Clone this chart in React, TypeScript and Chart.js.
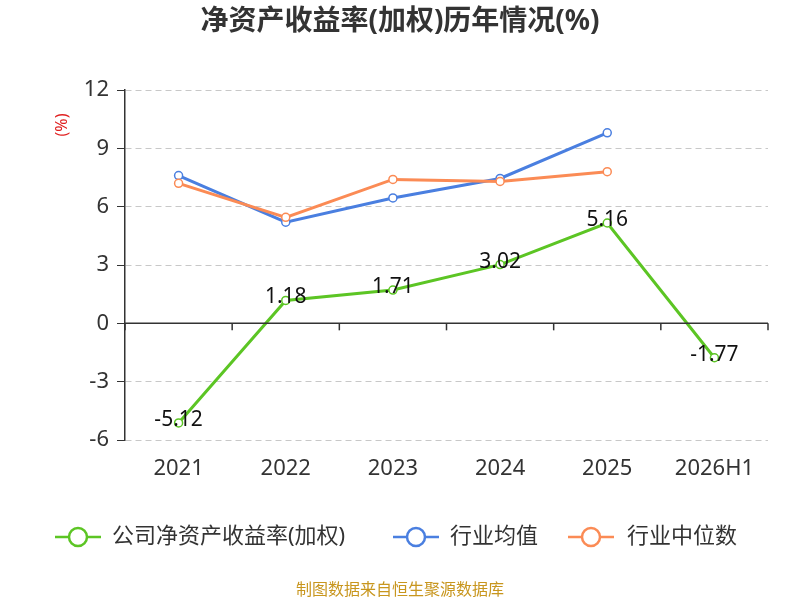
import React, { useEffect, useRef } from "react";
import { Chart, registerables } from "chart.js";
Chart.register(...registerables);

const categories = ["2021", "2022", "2023", "2024", "2025", "2026H1"];
const companyRoe = [-5.12, 1.18, 1.71, 3.02, 5.16, -1.77];
const industryAvg = [7.6, 5.2, 6.45, 7.45, 9.8, null];
const industryMedian = [7.2, 5.45, 7.4, 7.3, 7.8, null];
const yTicks = [-6, -3, 0, 3, 6, 9, 12];
const seriesNames = ["公司净资产收益率(加权)", "行业均值", "行业中位数"];
const colors = ["#5cc524", "#4a7fe0", "#fb8b55"];
const FONT = "'Noto Sans', 'Noto Sans CJK SC', sans-serif";

export default function App() {
  const ref = useRef<HTMLCanvasElement>(null);
  useEffect(() => {
    const overlay = {
      id: "overlay",
      afterDatasetsDraw(chart: any) {
        const ctx = chart.ctx;
        const y = chart.scales.y;
        const y0 = y.getPixelForValue(0);
        ctx.save();
        ctx.strokeStyle = "#333"; ctx.lineWidth = 1.5;
        ctx.beginPath(); ctx.moveTo(chart.chartArea.left, y0); ctx.lineTo(chart.chartArea.right, y0); ctx.stroke();
        const step = (chart.chartArea.right - chart.chartArea.left) / categories.length;
        for (let i = 0; i <= categories.length; i++) {
          const px = chart.chartArea.left + i * step;
          ctx.beginPath(); ctx.moveTo(px, y0); ctx.lineTo(px, y0 + 7); ctx.stroke();
        }
        const meta = chart.getDatasetMeta(0);
        ctx.fillStyle = "#111"; ctx.font = `21px ${FONT}`; ctx.textAlign = "center"; ctx.textBaseline = "middle";
        meta.data.forEach((p: any, i: number) => ctx.fillText(companyRoe[i].toFixed(2), p.x, p.y - 3));
        ctx.restore();
      },
      afterDraw(chart: any) {
        const ctx = chart.ctx;
        ctx.save();
        ctx.fillStyle = "#333"; ctx.font = `bold 28px ${FONT}`; ctx.textAlign = "center"; ctx.textBaseline = "middle";
        ctx.fillText("净资产收益率(加权)历年情况(%)", 400, 22);
        ctx.save(); ctx.translate(62, 125); ctx.rotate(-Math.PI / 2);
        ctx.fillStyle = "#e02020"; ctx.font = `16px ${FONT}`; ctx.fillText("(%)", 0, 0); ctx.restore();
        const items = [[55, 112], [393, 450], [568, 627]];
        items.forEach(([lx, tx], i) => {
          const cy = 537;
          ctx.strokeStyle = colors[i]; ctx.lineWidth = 2.5;
          ctx.beginPath(); ctx.moveTo(lx, cy); ctx.lineTo(lx + 46, cy); ctx.stroke();
          ctx.beginPath(); ctx.arc(lx + 23, cy, 9, 0, Math.PI * 2); ctx.fillStyle = "#fff"; ctx.fill(); ctx.stroke();
          ctx.fillStyle = "#333"; ctx.font = `22px ${FONT}`; ctx.textAlign = "left";
          ctx.fillText(seriesNames[i], tx, cy);
        });
        ctx.fillStyle = "#c8961e"; ctx.font = `16px ${FONT}`; ctx.textAlign = "center";
        ctx.fillText("制图数据来自恒生聚源数据库", 400, 590);
        ctx.restore();
      },
    };
    const mk = (i: number, data: any[]) => ({
      label: seriesNames[i], data, borderColor: colors[i], backgroundColor: "#fff",
      borderWidth: 3, pointRadius: 4, pointBorderWidth: 1.5, pointBorderColor: colors[i], tension: 0,
    });
    const chart = new Chart(ref.current!, {
      type: "line",
      data: { labels: categories, datasets: [mk(0, companyRoe), mk(2, industryMedian), mk(1, industryAvg)] as any },
      options: {
        animation: false, responsive: false,
        layout: { padding: { top: 90, right: 32, left: 0, bottom: 0 } },
        plugins: { legend: { display: false }, tooltip: { enabled: false } },
        scales: {
          x: {
            offset: true,
            grid: { display: false }, border: { display: false },
            ticks: { color: "#333", font: { size: 22, family: FONT }, padding: 8 },
            afterFit: (s: any) => { s.height = 160; },
          },
          y: {
            min: -6, max: 12,
            afterBuildTicks: (s: any) => { s.ticks = yTicks.map((v) => ({ value: v })); },
            grid: { color: "#c8c8c8", tickColor: "#333", tickLength: 8, lineWidth: 1 },
            border: { display: true, color: "#333", width: 1.5, dash: [6, 4] },
            ticks: { color: "#333", font: { size: 22, family: FONT }, padding: 8 },
            afterFit: (s: any) => { s.width = 125; },
          },
        },
      },
      plugins: [overlay],
    });
    return () => chart.destroy();
  }, []);
  return (
    <div style={{ position: "fixed", left: 0, top: 0, width: 800, height: 600, background: "#fff" }}>
      <canvas ref={ref} width={800} height={600} style={{ width: 800, height: 600 }} />
    </div>
  );
}
